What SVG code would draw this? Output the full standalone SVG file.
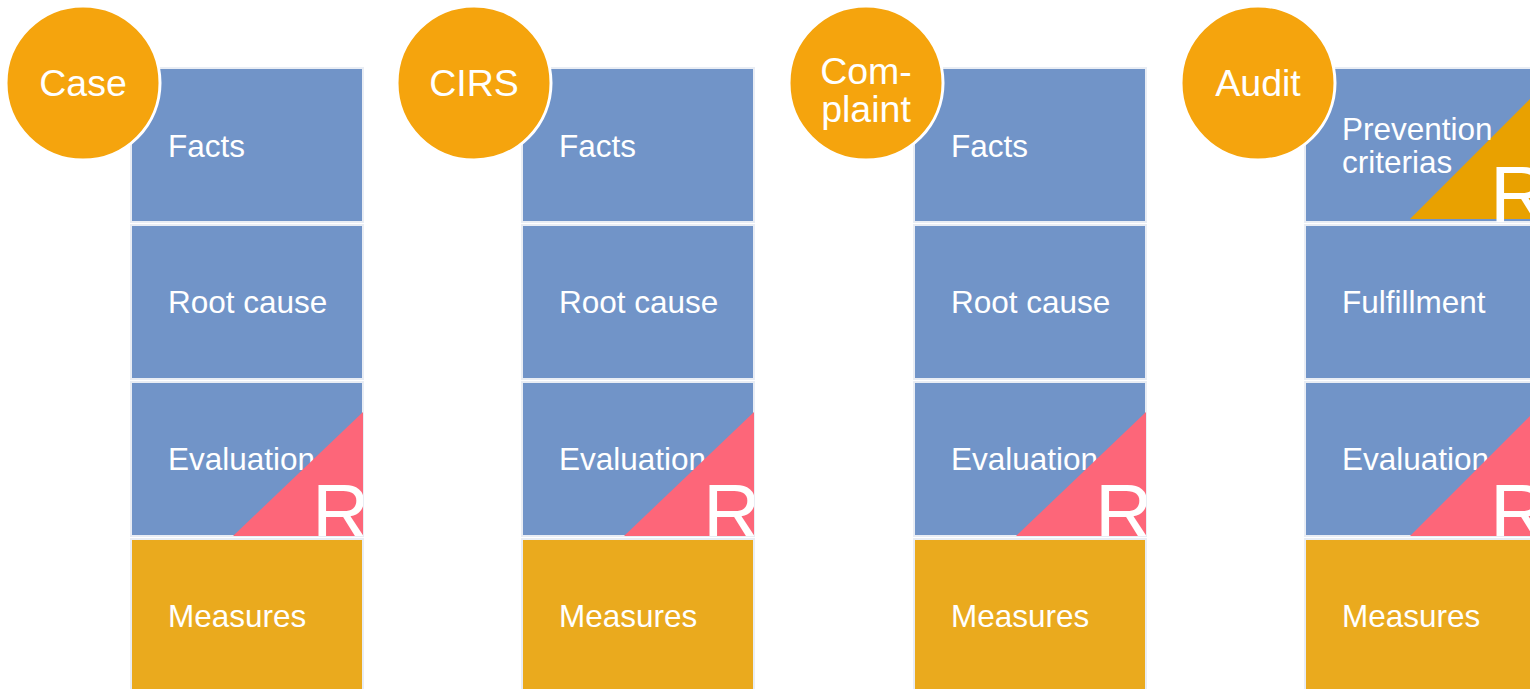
<svg xmlns="http://www.w3.org/2000/svg" width="1530" height="689" viewBox="0 0 1530 689">
<style>
.box{stroke:#e9edf4;stroke-width:2}
.blue{fill:#7194c8}
.gold{fill:#eaaa1e}
.lbl{font-family:"Liberation Sans",Arial,sans-serif;font-size:31.5px;fill:#ffffff}
.cir{fill:#f5a40d;stroke:#ffffff;stroke-width:3}
.clbl{font-family:"Liberation Sans",Arial,sans-serif;font-size:37.5px;fill:#ffffff;text-anchor:middle}
.tri{fill:#fd6679}
.tri2{fill:#e9a100}
.big{font-family:"Liberation Sans",Arial,sans-serif;font-size:80px;fill:#ffffff}
</style>
<defs>
<clipPath id="clipEval" clipPathUnits="userSpaceOnUse"><rect x="0" y="382" width="232" height="154"/></clipPath>
<clipPath id="clipTop" clipPathUnits="userSpaceOnUse"><rect x="0" y="68" width="232" height="154"/></clipPath>
</defs>
<rect width="1530" height="689" fill="#ffffff"/>
<g id="connectors"></g>

<g id="col-case" transform="translate(131,0)">
<g id="case-facts"><rect class="box blue" x="0" y="68" width="232" height="154"/><text class="lbl" x="37" y="157">Facts</text></g>
<g id="case-root"><rect class="box blue" x="0" y="225" width="232" height="154"/><text class="lbl" x="37" y="313">Root cause</text></g>
<g id="case-eval"><rect class="box blue" x="0" y="382" width="232" height="154"/><text class="lbl" x="37" y="470">Evaluation</text>
<g clip-path="url(#clipEval)"><polygon class="tri" points="102,536 232,536 232,412"/><text class="big" x="181" y="540">R</text></g></g>
<g id="case-measures"><rect class="box gold" x="0" y="539" width="232" height="160"/><text class="lbl" x="37" y="627">Measures</text></g>
<g id="case-circle"><circle class="cir" cx="-48" cy="83" r="77"/><text class="clbl" x="-48" y="96">Case</text></g>
</g>

<g id="col-cirs" transform="translate(522,0)">
<g id="cirs-facts"><rect class="box blue" x="0" y="68" width="232" height="154"/><text class="lbl" x="37" y="157">Facts</text></g>
<g id="cirs-root"><rect class="box blue" x="0" y="225" width="232" height="154"/><text class="lbl" x="37" y="313">Root cause</text></g>
<g id="cirs-eval"><rect class="box blue" x="0" y="382" width="232" height="154"/><text class="lbl" x="37" y="470">Evaluation</text>
<g clip-path="url(#clipEval)"><polygon class="tri" points="102,536 232,536 232,412"/><text class="big" x="181" y="540">R</text></g></g>
<g id="cirs-measures"><rect class="box gold" x="0" y="539" width="232" height="160"/><text class="lbl" x="37" y="627">Measures</text></g>
<g id="cirs-circle"><circle class="cir" cx="-48" cy="83" r="77"/><text class="clbl" x="-48" y="96">CIRS</text></g>
</g>

<g id="col-complaint" transform="translate(914,0)">
<g id="complaint-facts"><rect class="box blue" x="0" y="68" width="232" height="154"/><text class="lbl" x="37" y="157">Facts</text></g>
<g id="complaint-root"><rect class="box blue" x="0" y="225" width="232" height="154"/><text class="lbl" x="37" y="313">Root cause</text></g>
<g id="complaint-eval"><rect class="box blue" x="0" y="382" width="232" height="154"/><text class="lbl" x="37" y="470">Evaluation</text>
<g clip-path="url(#clipEval)"><polygon class="tri" points="102,536 232,536 232,412"/><text class="big" x="181" y="540">R</text></g></g>
<g id="complaint-measures"><rect class="box gold" x="0" y="539" width="232" height="160"/><text class="lbl" x="37" y="627">Measures</text></g>
<g id="complaint-circle"><circle class="cir" cx="-48" cy="83" r="77"/><text class="clbl" x="-48" y="84">Com-</text><text class="clbl" x="-48" y="122">plaint</text></g>
</g>

<g id="col-audit" transform="translate(1305,0)">
<g id="audit-prevention"><rect class="box blue" x="0" y="68" width="232" height="154"/>
<g clip-path="url(#clipTop)"><polygon class="tri2" points="105,219 232,219 232,92"/><text class="big" x="185" y="222">R</text></g>
<text class="lbl" x="37" y="140">Prevention</text><text class="lbl" x="37" y="173">criterias</text></g>
<g id="audit-fulfillment"><rect class="box blue" x="0" y="225" width="232" height="154"/><text class="lbl" x="37" y="313">Fulfillment</text></g>
<g id="audit-eval"><rect class="box blue" x="0" y="382" width="232" height="154"/><text class="lbl" x="37" y="470">Evaluation</text>
<g clip-path="url(#clipEval)"><polygon class="tri" points="105,536 232,536 232,409"/><text class="big" x="185" y="540">R</text></g></g>
<g id="audit-measures"><rect class="box gold" x="0" y="539" width="232" height="160"/><text class="lbl" x="37" y="627">Measures</text></g>
<g id="audit-circle"><circle class="cir" cx="-47" cy="83" r="77"/><text class="clbl" x="-47" y="96">Audit</text></g>
</g>
</svg>
